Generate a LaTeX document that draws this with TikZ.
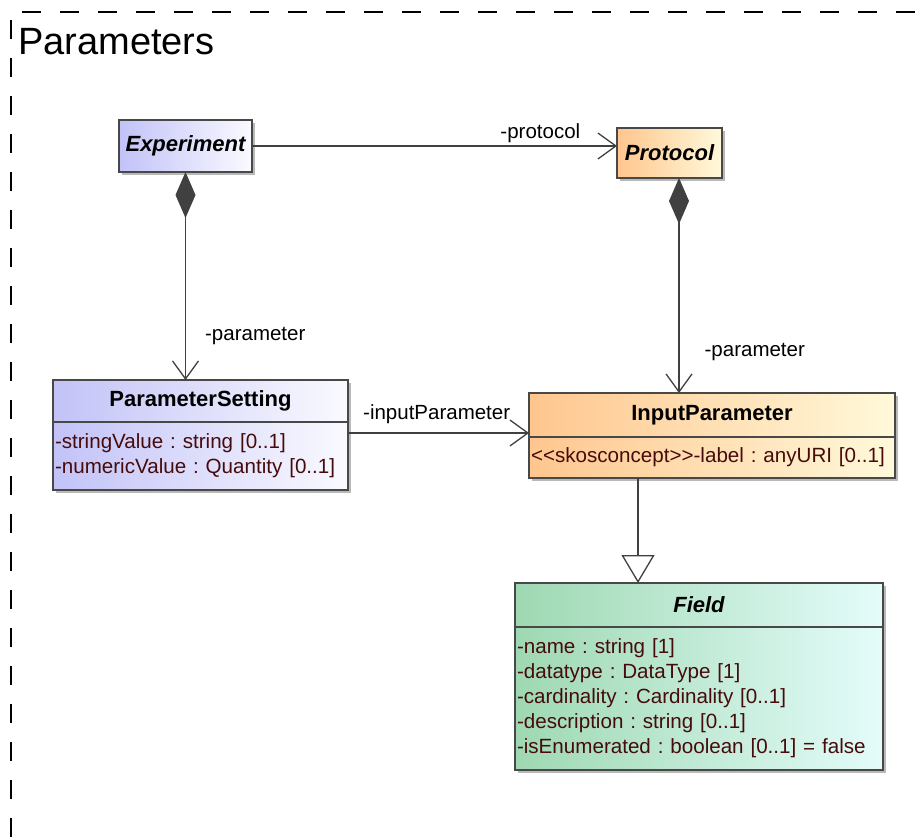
\documentclass[tikz,border=0pt]{standalone}
\usepackage{fontspec}
\setmainfont{Liberation Sans}
\usetikzlibrary{arrows.meta, shadows, positioning}
\definecolor{clsline}{RGB}{72,72,72}
\definecolor{conn}{RGB}{64,64,64}
\definecolor{attrtext}{RGB}{70,12,12}
\definecolor{blueL}{RGB}{194,194,248}
\definecolor{blueR}{RGB}{250,250,255}
\definecolor{orangeL}{RGB}{255,198,142}
\definecolor{orangeR}{RGB}{255,249,218}
\definecolor{greenL}{RGB}{158,216,178}
\definecolor{greenR}{RGB}{228,252,250}
\tikzstyle{cls} = [draw=clsline, line width=1.3pt, outer sep=0pt, inner sep=2pt,
  drop shadow={shadow xshift=3pt, shadow yshift=-3pt, fill=black!50, opacity=.55},
  font=\fontsize{22}{26}\selectfont\bfseries]
\tikzstyle{abstract} = [cls, font=\fontsize{22}{26}\selectfont\bfseries\itshape]
\tikzstyle{attrs} = [cls, font=\fontsize{20.6}{25}\selectfont\frenchspacing, text=attrtext, align=left]
\tikzstyle{lbl} = [font=\fontsize{20.5}{24}\selectfont, inner sep=3pt]
\tikzstyle{arrow} = [line width=1.3pt, draw=conn, -{Straight Barb[length=18pt,width=26pt]}]
\tikzstyle{comp} = [line width=1.3pt, draw=conn,
  {Diamond[length=46pt,width=20pt,fill=conn]}-{Straight Barb[length=18pt,width=26pt]}]
\tikzstyle{gen} = [line width=1.3pt, draw=conn, -{Triangle[open,length=28pt,width=33pt,fill=white]}]
\begin{document}
\begin{tikzpicture}[x=1pt, y=-1pt]
	\useasboundingbox (0,0) rectangle (917,837);
	% package frame
	\draw[line width=1.3pt, dash pattern=on 19pt off 19pt] (11,837) -- (11,12) -- (917,12);
	\node[anchor=base west, inner sep=0pt, font=\fontsize{38}{40}\selectfont] (title) at (18,55) {Parameters};

	% classes
	\node[abstract, minimum width=133pt, minimum height=52pt, left color=blueL, right color=blueR] (exp) at (185.5,146) {Experiment};
	\node[abstract, minimum width=105pt, minimum height=50pt, left color=orangeL, right color=orangeR] (prot) at (669.5,153) {Protocol};

	\node[cls, minimum width=295pt, minimum height=42pt, left color=blueL, right color=blueR] (ps) at (200.5,401) {ParameterSetting};
	\node[attrs, text width=291pt, minimum height=68pt, left color=blueL, right color=blueR, below=0pt of ps] (psattr)
		{-stringValue : string [0..1]\\-numericValue : Quantity [0..1]};

	\node[cls, minimum width=366pt, minimum height=44pt, left color=orangeL, right color=orangeR] (ip) at (712,415) {InputParameter};
	\node[attrs, text width=362pt, minimum height=41pt, left color=orangeL, right color=orangeR, below=0pt of ip] (ipattr)
		{<{}<skosconcept>{}>-label : anyURI [0..1]};

	\node[abstract, minimum width=368pt, minimum height=44pt, left color=greenL, right color=greenR] (field) at (699,605) {Field};
	\node[attrs, text width=364pt, minimum height=143pt, left color=greenL, right color=greenR, below=0pt of field] (fieldattr)
		{-name : string [1]\\-datatype : DataType [1]\\-cardinality : Cardinality [0..1]\\-description : string [0..1]\\-isEnumerated : boolean [0..1] = false};

	% associations
	\draw[arrow] (exp.east) -- (exp.east -| prot.west) node[lbl, pos=0.79, above] {-protocol};
	\draw[comp] (exp.south) -- (exp.south |- ps.north) node[lbl, pos=0.79, anchor=west, xshift=16pt] {-parameter};
	\coordinate (pdrop) at ([xshift=9.5pt]prot.south);
	\draw[comp] (pdrop) -- (pdrop |- ip.north) node[lbl, pos=0.81, anchor=west, xshift=22pt] {-parameter};
	\coordinate (pset) at ([yshift=-11pt]psattr.north east);
	\draw[arrow] (pset) -- (ip.west |- pset) node[lbl, pos=0.49, above, yshift=6pt] {-inputParameter};
	\coordinate (gsrc) at ([xshift=-74pt]ipattr.south);
	\draw[gen] (gsrc) -- (gsrc |- field.north);
\end{tikzpicture}
\end{document}
